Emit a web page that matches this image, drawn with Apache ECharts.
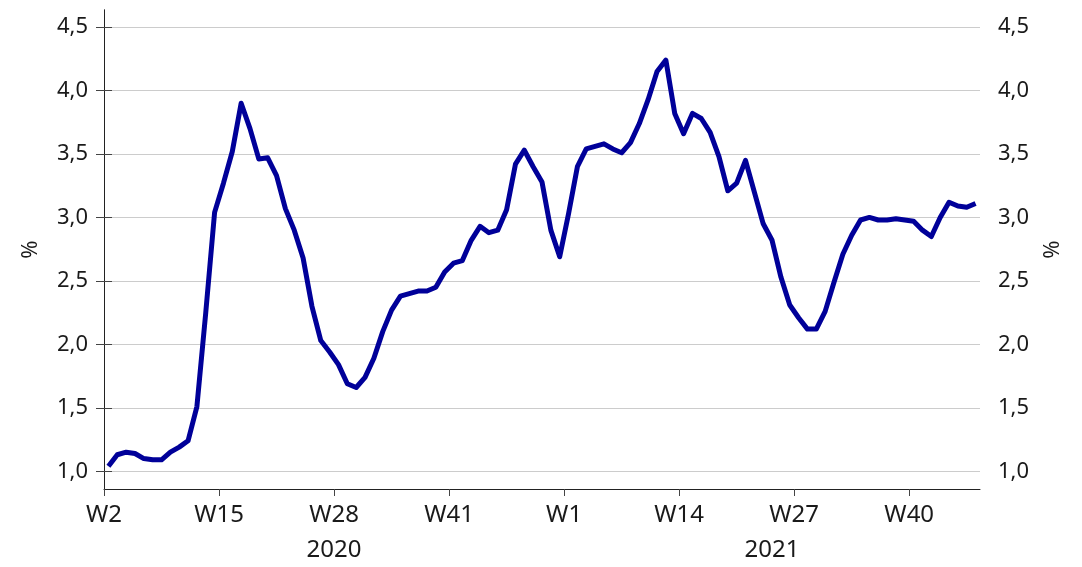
<!DOCTYPE html>
<html>
<head>
<meta charset="utf-8">
<title>Andel, %</title>
<script src="https://cdn.jsdelivr.net/npm/echarts@6/dist/echarts.min.js"></script>
<style>
    html, body {
        margin: 0;
        padding: 0;
        background: #ffffff;
    }
    #chart {
        width: 1082px;
        height: 567px;
    }
</style>
</head>
<body>
<div id="chart"></div>
<script>
// weeks covered per year (2020 has 53 ISO weeks)
var years = ['2020', '2021'];
var firstWeek = [2, 1];
var lastWeek = [53, 47];

// tick labels on the x axis
var weekTicks = ['W2', 'W15', 'W28', 'W41', 'W1', 'W14', 'W27', 'W40'];
var yTicks = [1.0, 1.5, 2.0, 2.5, 3.0, 3.5, 4.0, 4.5];

// weekly values, 2020 W2 .. 2021 W47
var share = [
    1.04, 1.13, 1.15, 1.14, 1.10, 1.09, 1.09, 1.15, 1.19, 1.24,
    1.51, 2.25, 3.04, 3.27, 3.52, 3.90, 3.70, 3.46, 3.47, 3.33,
    3.07, 2.90, 2.68, 2.30, 2.03, 1.94, 1.84, 1.69, 1.66, 1.74,
    1.89, 2.10, 2.27, 2.38, 2.40, 2.42, 2.42, 2.45, 2.57, 2.64,
    2.66, 2.82, 2.93, 2.88, 2.90, 3.06, 3.42, 3.53, 3.40, 3.28,
    2.90, 2.69, 3.03, 3.40, 3.54, 3.56, 3.58, 3.54, 3.51, 3.59,
    3.74, 3.93, 4.15, 4.24, 3.82, 3.66, 3.82, 3.78, 3.67, 3.48,
    3.21, 3.27, 3.45, 3.20, 2.95, 2.82, 2.53, 2.31, 2.21, 2.12,
    2.12, 2.26, 2.49, 2.71, 2.86, 2.98, 3.00, 2.98, 2.98, 2.99,
    2.98, 2.97, 2.90, 2.85, 3.00, 3.12, 3.09, 3.08, 3.11
];

var fontName = 'Noto Sans';
var textColor = '#1a1a1a';

$ready(function () {
    drawChart('chart');
});

function $ready(fn) {
    if (document.readyState !== 'loading') {
        fn();
    } else {
        document.addEventListener('DOMContentLoaded', fn);
    }
}

// list of week labels, one per point, and where each year starts
function buildWeeks() {
    var weeks = [];
    var yearStart = [];
    for (var y = 0; y < years.length; y++) {
        yearStart.push(weeks.length);
        for (var w = firstWeek[y]; w <= lastWeek[y]; w++) {
            weeks.push('W' + w);
        }
    }
    yearStart.push(weeks.length);
    return {weeks: weeks, yearStart: yearStart};
}

function formatNumber(v) {
    return v.toFixed(1).replace('.', ',');
}

function drawChart(id) {
    var myChart = echarts.init(document.getElementById(id));
    var info = buildWeeks();
    var weeks = info.weeks;
    var yearStart = info.yearStart;

    // tick positions: start of the labelled weeks
    var tickPos = [];
    var k = 0;
    for (var i = 0; i < weeks.length && k < weekTicks.length; i++) {
        if (weeks[i] === weekTicks[k]) {
            tickPos.push(i);
            k++;
        }
    }

    // year labels centred on each year's span
    var yearPos = [];
    for (var y = 0; y < years.length; y++) {
        yearPos.push((yearStart[y] + yearStart[y + 1]) / 2);
    }

    // each week is drawn in the middle of its slot
    var points = share.map(function (v, i) {
        return [i + 0.5, v];
    });

    var yAxisBase = {
        type: 'value',
        min: 0.86,
        max: 4.635,
        name: '%',
        nameLocation: 'middle',
        nameRotate: 90,
        nameTextStyle: {
            fontFamily: fontName,
            fontSize: 22,
            color: textColor
        },
        axisLine: {
            show: true,
            lineStyle: {color: '#222222', width: 1}
        },
        axisTick: {
            show: true,
            length: 8,
            customValues: yTicks,
            lineStyle: {color: '#444444'}
        },
        axisLabel: {
            customValues: yTicks,
            fontFamily: fontName,
            fontSize: 22,
            color: textColor,
            formatter: formatNumber
        }
    };

    var leftAxis = echarts.util.merge({
        position: 'left',
        nameGap: 62,
        axisLabel: {margin: 16},
        splitLine: {
            show: true,
            lineStyle: {color: '#cccccc', width: 1}
        }
    }, yAxisBase);

    var rightAxis = echarts.util.merge({
        position: 'right',
        nameGap: 62,
        axisLabel: {margin: 18},
        splitLine: {show: false}
    }, yAxisBase);

    var option = {
        animation: false,
        backgroundColor: '#ffffff',
        grid: {
            left: 104,
            right: 102,
            top: 10,
            bottom: 78,
            containLabel: false
        },
        xAxis: [
            {
                type: 'value',
                min: 0,
                max: weeks.length,
                position: 'bottom',
                axisLine: {
                    show: true,
                    onZero: false,
                    lineStyle: {color: '#222222', width: 1}
                },
                axisTick: {
                    show: true,
                    length: 7,
                    customValues: tickPos,
                    lineStyle: {color: '#444444'}
                },
                axisLabel: {
                    customValues: tickPos,
                    margin: 14,
                    fontFamily: fontName,
                    fontSize: 24,
                    color: textColor,
                    formatter: function (v) {
                        return weeks[v];
                    }
                },
                splitLine: {show: false}
            },
            {
                type: 'value',
                min: 0,
                max: weeks.length,
                position: 'bottom',
                axisLine: {show: false},
                axisTick: {show: false},
                axisLabel: {
                    customValues: yearPos,
                    margin: 49,
                    fontFamily: fontName,
                    fontSize: 24,
                    color: textColor,
                    formatter: function (v) {
                        for (var y = 0; y < years.length; y++) {
                            if (v >= yearStart[y] && v < yearStart[y + 1]) {
                                return years[y];
                            }
                        }
                        return '';
                    }
                },
                splitLine: {show: false}
            }
        ],
        yAxis: [leftAxis, rightAxis],
        series: [
            {
                name: 'Andel',
                type: 'line',
                xAxisIndex: 0,
                yAxisIndex: 0,
                data: points,
                showSymbol: false,
                symbol: 'none',
                lineStyle: {
                    color: '#000099',
                    width: 5,
                    join: 'round',
                    cap: 'butt'
                }
            }
        ]
    };

    myChart.setOption(option);
}
</script>
</body>
</html>
